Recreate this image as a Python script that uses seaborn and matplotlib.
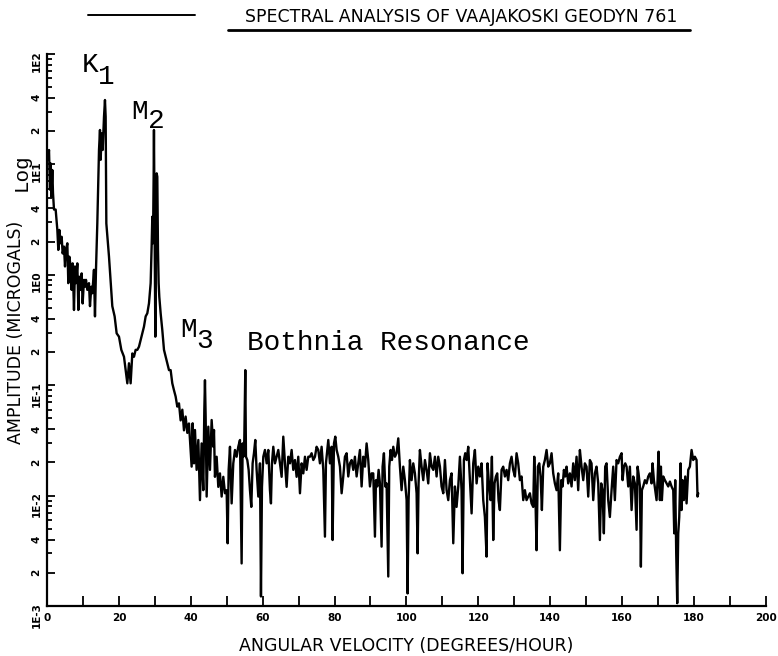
import matplotlib
matplotlib.use("Agg")
import matplotlib.pyplot as plt
import matplotlib.ticker as mticker
from matplotlib.lines import Line2D
import pandas as pd
import seaborn as sns

# ---------------------------------------------------------
# Spectrum values (deg/hour, microgals)
# ---------------------------------------------------------
# tidal band 0 - 40 deg/h (K1, M2)
freq_a = [0.28, 0.56, 0.84, 1.02, 1.21, 1.48, 1.67, 1.95, 2.41, 2.88,
          3.15, 3.43, 3.80, 4.08, 4.36, 4.73, 5.01, 5.29, 5.66, 5.93,
          6.21, 6.58, 6.86, 7.14, 7.51, 7.79, 8.07, 8.44, 8.72, 8.99,
          9.37, 9.64, 9.92, 10.29, 10.57, 10.85, 11.22, 11.68, 11.96, 12.33,
          12.61, 13.07, 13.35, 13.63, 14.00, 14.47, 14.74, 14.93, 15.21, 15.49,
          15.86, 16.13, 16.32, 16.51, 17.25, 18.17, 18.82, 19.38, 20.03, 20.68,
          21.42, 21.88, 22.35, 22.81, 23.27, 23.74, 24.20, 24.66, 25.13, 25.59,
          26.06, 26.52, 26.98, 27.45, 27.91, 28.37, 28.84, 29.11, 29.30, 29.49,
          29.67, 29.76, 29.95, 30.14, 30.32, 30.51, 30.69, 30.88, 31.06, 31.25,
          31.62, 32.08, 32.55, 33.01, 33.47, 33.94, 34.40, 34.86, 35.33, 35.79,
          36.25, 36.72, 37.18, 37.65, 38.11, 38.57, 39.04, 39.50]
amp_a = [11.0, 13.5, 5.9, 10.2, 5.1, 8.9, 5.5, 3.9, 3.9, 2.55,
         1.68, 2.55, 1.93, 2.21, 1.56, 1.80, 1.19, 1.68, 1.93, 0.84,
         1.46, 1.19, 0.73, 1.27, 0.48, 1.19, 0.84, 1.27, 0.48, 0.96,
         0.73, 1.03, 0.55, 0.90, 0.78, 0.90, 0.73, 0.84, 0.52, 0.78,
         0.68, 1.11, 0.42, 1.11, 2.92, 13.5, 20.5, 11.0, 19.1, 13.5,
         27.0, 38.3, 27.0, 2.92, 1.46, 0.52, 0.42, 0.295, 0.275, 0.209,
         0.181, 0.137, 0.104, 0.158, 0.104, 0.194, 0.181, 0.209, 0.209, 0.223,
         0.257, 0.295, 0.339, 0.42, 0.448, 0.55, 0.84, 1.80, 3.36, 1.93,
         7.74, 20.5, 2.55, 0.275, 2.55, 8.3, 7.74, 1.68, 0.84, 0.63,
         0.448, 0.316, 0.209, 0.181, 0.158, 0.137, 0.137, 0.104, 0.090, 0.079,
         0.064, 0.0685, 0.048, 0.060, 0.039, 0.052, 0.037, 0.045]

# 40 - 81 deg/h (M3, Bothnia resonance)
freq_b = [40.24, 40.52, 40.89, 41.17, 41.63, 42.10, 42.56, 43.02, 43.49, 43.77,
          43.95, 44.14, 44.42, 44.88, 45.34, 45.81, 46.27, 46.46, 46.73, 47.20,
          47.66, 48.12, 48.59, 49.05, 49.52, 49.98, 50.26, 50.54, 50.91, 51.37,
          51.83, 52.30, 52.76, 53.22, 53.69, 54.15, 54.43, 54.62, 54.89, 55.17,
          55.36, 55.73, 56.10, 56.47, 56.84, 57.21, 57.58, 57.95, 58.32, 58.79,
          59.25, 59.53, 59.81, 60.18, 60.64, 61.11, 61.57, 62.03, 62.31, 62.59,
          62.96, 63.42, 63.89, 64.35, 64.81, 65.28, 65.74, 66.21, 66.67, 67.13,
          67.60, 68.06, 68.52, 68.99, 69.45, 69.91, 70.38, 70.84, 71.31, 71.77,
          72.23, 72.70, 73.16, 73.62, 74.09, 74.55, 75.01, 75.48, 75.94, 76.40,
          76.87, 77.33, 77.61, 77.98, 78.26, 78.72, 79.19, 79.46, 79.84, 80.21,
          80.58, 81.04]
amp_b = [0.0183, 0.0452, 0.0196, 0.0393, 0.0171, 0.0319, 0.0091, 0.0297, 0.0112, 0.0596,
         0.111, 0.0519, 0.0098, 0.0421, 0.0171, 0.0484, 0.0277, 0.0393, 0.0148, 0.0225,
         0.0120, 0.0159, 0.0098, 0.0148, 0.0105, 0.0112, 0.0037, 0.0171, 0.0277, 0.0085,
         0.0196, 0.0259, 0.0225, 0.0277, 0.0319, 0.00243, 0.0297, 0.0225, 0.0319, 0.137,
         0.0225, 0.0210, 0.0171, 0.0112, 0.0079, 0.0196, 0.0242, 0.0319, 0.0171, 0.0098,
         0.0196, 0.00122, 0.0120, 0.0225, 0.0259, 0.0196, 0.0259, 0.0112, 0.0085, 0.0196,
         0.0277, 0.0196, 0.0225, 0.0259, 0.0196, 0.0148, 0.0342, 0.0196, 0.0120, 0.0225,
         0.0196, 0.0259, 0.0171, 0.0210, 0.0148, 0.0225, 0.0105, 0.0196, 0.0159, 0.0225,
         0.0171, 0.0225, 0.0225, 0.0242, 0.0210, 0.0225, 0.0277, 0.0259, 0.0196, 0.0277,
         0.0171, 0.00425, 0.0196, 0.0259, 0.0319, 0.0196, 0.0277, 0.00396, 0.0297, 0.0342,
         0.0259, 0.0225]

# 81 - 120 deg/h
freq_c = [81.50, 81.97, 82.43, 82.89, 83.36, 83.82, 84.28, 84.75, 85.21, 85.67,
          86.14, 86.60, 87.06, 87.53, 87.99, 88.46, 88.92, 89.38, 89.85, 90.31,
          90.77, 91.24, 91.52, 91.89, 92.26, 92.63, 93.09, 93.37, 93.74, 94.11,
          94.48, 94.95, 95.22, 95.60, 95.97, 96.34, 96.80, 97.26, 97.73, 98.19,
          98.65, 99.12, 99.58, 100.05, 100.32, 100.60, 100.97, 101.44, 101.90, 102.36,
          102.83, 103.11, 103.38, 103.75, 104.22, 104.68, 105.15, 105.61, 106.07, 106.54,
          107.00, 107.46, 107.93, 108.39, 108.85, 109.32, 109.78, 110.25, 110.71, 111.17,
          111.64, 112.10, 112.56, 113.03, 113.49, 113.95, 114.42, 114.88, 115.34, 115.62,
          115.99, 116.36, 116.74, 117.20, 117.66, 118.13, 118.59, 119.05, 119.52, 119.98]
amp_c = [0.0183, 0.0105, 0.0149, 0.0225, 0.0242, 0.0149, 0.0196, 0.0210, 0.0171, 0.0225,
         0.0149, 0.0196, 0.0259, 0.0121, 0.0225, 0.0183, 0.0297, 0.0210, 0.0121, 0.0159,
         0.0159, 0.00425, 0.0138, 0.0121, 0.0171, 0.0129, 0.00345, 0.0183, 0.0242, 0.0121,
         0.0129, 0.00185, 0.0183, 0.0259, 0.0210, 0.0277, 0.0225, 0.0242, 0.0330, 0.0183,
         0.0112, 0.0183, 0.0138, 0.0091, 0.0013, 0.0091, 0.0210, 0.0138, 0.0196, 0.0159,
         0.0105, 0.0030, 0.0129, 0.0259, 0.0183, 0.0138, 0.0210, 0.0171, 0.0129, 0.0242,
         0.0183, 0.0171, 0.0225, 0.0149, 0.0225, 0.0183, 0.0121, 0.0105, 0.0210, 0.0112,
         0.0091, 0.0138, 0.0159, 0.0037, 0.0121, 0.0079, 0.0121, 0.0225, 0.0112, 0.00198,
         0.0210, 0.0242, 0.0210, 0.0277, 0.0138, 0.0069, 0.0196, 0.0259, 0.0129, 0.0183]

# 120 - 159 deg/h
freq_d = [120.44, 120.91, 121.37, 121.83, 122.30, 122.57, 122.95, 123.41, 123.78, 124.15,
          124.52, 124.89, 125.26, 125.63, 126.00, 126.47, 126.93, 127.40, 127.86, 128.32,
          128.79, 129.25, 129.71, 130.18, 130.64, 131.10, 131.57, 132.03, 132.50, 132.96,
          133.42, 133.89, 134.35, 134.81, 135.28, 135.56, 135.83, 136.20, 136.57, 136.95,
          137.32, 137.69, 138.06, 138.52, 138.99, 139.45, 139.91, 140.38, 140.84, 141.30,
          141.77, 142.23, 142.69, 143.07, 143.44, 143.81, 144.18, 144.55, 145.01, 145.48,
          145.94, 146.40, 146.87, 147.33, 147.79, 148.26, 148.72, 149.19, 149.65, 150.11,
          150.58, 151.04, 151.50, 151.97, 152.43, 152.89, 153.36, 153.82, 154.19, 154.56,
          154.93, 155.30, 155.68, 156.14, 156.60, 157.07, 157.53, 157.99, 158.46, 158.92]
amp_d = [0.0149, 0.0196, 0.0091, 0.0064, 0.0028, 0.0196, 0.0129, 0.0091, 0.0225, 0.00396,
         0.0129, 0.0149, 0.0159, 0.0091, 0.0074, 0.0171, 0.0183, 0.0149, 0.0171, 0.0138,
         0.0196, 0.0225, 0.0171, 0.0149, 0.0242, 0.0196, 0.0138, 0.0149, 0.0091, 0.0112,
         0.0091, 0.0098, 0.0105, 0.0085, 0.0079, 0.0225, 0.0121, 0.0032, 0.0183, 0.0196,
         0.0149, 0.0074, 0.0183, 0.0210, 0.0259, 0.0183, 0.0196, 0.0242, 0.0159, 0.0129,
         0.0112, 0.0159, 0.0032, 0.0138, 0.0121, 0.0171, 0.0149, 0.0183, 0.0129, 0.0159,
         0.0121, 0.0196, 0.0138, 0.0225, 0.0112, 0.0259, 0.0183, 0.0138, 0.0196, 0.0183,
         0.0098, 0.0210, 0.0196, 0.0091, 0.0159, 0.0183, 0.0129, 0.00396, 0.0129, 0.0112,
         0.00455, 0.0183, 0.0196, 0.0091, 0.0064, 0.0112, 0.0183, 0.0091, 0.0210, 0.0196]

# 159 - 181 deg/h
freq_e = [159.39, 159.86, 160.13, 160.50, 160.88, 161.25, 161.71, 162.17, 162.64, 163.10,
          163.56, 164.03, 164.31, 164.58, 164.96, 165.23, 165.51, 165.88, 166.35, 166.81,
          167.27, 167.74, 168.20, 168.48, 168.85, 169.22, 169.59, 169.87, 170.15, 170.52,
          170.80, 171.07, 171.45, 171.91, 172.37, 172.84, 173.30, 173.76, 174.23, 174.51,
          174.78, 175.06, 175.34, 175.62, 175.90, 176.27, 176.55, 176.82, 177.19, 177.57,
          177.94, 178.40, 178.86, 179.33, 179.79, 180.25, 180.72, 180.99, 181.18]
amp_e = [0.0225, 0.0242, 0.0138, 0.0183, 0.0196, 0.0183, 0.0121, 0.0183, 0.0074, 0.0149,
         0.0129, 0.0049, 0.0183, 0.0159, 0.0121, 0.00227, 0.0112, 0.0121, 0.0138, 0.0129,
         0.0149, 0.0159, 0.0129, 0.0196, 0.0138, 0.0112, 0.0091, 0.0138, 0.0250, 0.0091,
         0.0183, 0.0091, 0.0149, 0.0138, 0.0129, 0.0121, 0.0134, 0.0121, 0.0112, 0.00455,
         0.0138, 0.0030, 0.00106, 0.00455, 0.0064, 0.0196, 0.0074, 0.0138, 0.0091, 0.0149,
         0.0085, 0.0171, 0.0183, 0.0259, 0.0210, 0.0225, 0.0210, 0.0098, 0.0105]

# axis ticks
xticks = [0, 20, 40, 60, 80, 100, 120, 140, 160, 180, 200]
yticks = [1e-3, 2e-3, 4e-3, 1e-2, 2e-2, 4e-2, 1e-1, 2e-1, 4e-1,
          1, 2, 4, 10, 20, 40, 100]
ytick_labels = ["1E-3", "2", "4", "1E-2", "2", "4", "1E-1", "2", "4",
                "1E0", "2", "4", "1E1", "2", "4", "1E2"]

# peak labels: (main letter, subscript, x, y, sub x, sub y)
peak_labels = [("K", "1", 11.96, 78.7, 16.41, 62.5),
               ("M", "2", 25.87, 30.1, 30.32, 24.7),
               ("M", "3", 39.36, 0.319, 43.95, 0.251)]


def build_frame():
    freq = freq_a + freq_b + freq_c + freq_d + freq_e
    amp = amp_a + amp_b + amp_c + amp_d + amp_e
    assert len(freq) == len(amp), "freq / amp length mismatch"
    return pd.DataFrame({"freq": freq, "amp": amp})


def main():
    df = build_frame()

    sns.set_style("ticks")
    plt.rcParams["font.family"] = ["DejaVu Sans"]
    plt.rcParams["text.color"] = "black"
    plt.rcParams["axes.labelcolor"] = "black"
    plt.rcParams["xtick.color"] = "black"
    plt.rcParams["ytick.color"] = "black"

    fig = plt.figure(figsize=(7.78, 6.56), dpi=100)
    ax = fig.add_axes([0.0604, 0.0762, 0.924, 0.8415])

    sns.lineplot(data=df, x="freq", y="amp", color="black", linewidth=1.7,
                 estimator=None, ax=ax)

    ax.set_yscale("log")
    ax.set_xlim(0, 200)
    ax.set_ylim(1e-3, 1e2)

    # x ticks
    ax.set_xticks(xticks)
    ax.set_xticklabels([str(t) for t in xticks])
    ax.xaxis.set_minor_locator(mticker.MultipleLocator(10))

    # y ticks: decades plus 2 and 4 labelled, rest unlabelled
    ax.yaxis.set_major_locator(mticker.FixedLocator(yticks))
    ax.yaxis.set_major_formatter(mticker.FixedFormatter(ytick_labels))
    ax.yaxis.set_minor_locator(mticker.LogLocator(base=10, subs=(3, 5, 6, 7, 8, 9), numticks=20))
    ax.yaxis.set_minor_formatter(mticker.NullFormatter())

    ax.tick_params(axis="both", which="both", direction="in", color="black",
                   labelcolor="black", width=1.3)
    ax.tick_params(axis="x", which="both", length=7, labelsize=7.5, pad=5)
    ax.tick_params(axis="y", which="major", length=6, labelsize=7.5, pad=4, labelrotation=90)
    ax.tick_params(axis="y", which="minor", length=3.5)
    for lab in ax.get_xticklabels() + ax.get_yticklabels():
        lab.set_fontweight("bold")

    sns.despine(ax=ax)
    for side in ["left", "bottom"]:
        ax.spines[side].set_linewidth(1.6)
        ax.spines[side].set_color("black")

    ax.set_xlabel("ANGULAR VELOCITY (DEGREES/HOUR)", fontsize=12.5, color="black")
    ax.xaxis.set_label_coords(0.5, -0.056)
    ax.set_ylabel("AMPLITUDE (MICROGALS)", fontsize=12.5, color="black")
    ax.yaxis.set_label_coords(-0.031, 0.495)

    fig.text(0.027, 0.738, "Log", rotation=90, ha="center", va="center",
             fontsize=15, family=["Liberation Mono", "DejaVu Sans Mono"])

    # peak annotations
    mono = ["Liberation Mono", "DejaVu Sans Mono"]
    for main_txt, sub_txt, x0, y0, x1, y1 in peak_labels:
        ax.text(x0, y0, main_txt, ha="center", va="center", fontsize=20, family=mono)
        ax.text(x1, y1, sub_txt, ha="center", va="center", fontsize=20, family=mono)
    ax.text(55.6, 0.241, "Bothnia Resonance", ha="left", va="center",
            fontsize=20, family=mono)

    # title block: legend stroke, caption and underline
    fig.add_artist(Line2D([88 / 778, 195 / 778], [1 - 15 / 656, 1 - 15 / 656],
                          color="black", linewidth=1.4))
    fig.text(461 / 778, 1 - 17 / 656, "SPECTRAL ANALYSIS OF VAAJAKOSKI GEODYN 761",
             ha="center", va="center", fontsize=12.5)
    fig.add_artist(Line2D([228 / 778, 690 / 778], [1 - 30 / 656, 1 - 30 / 656],
                          color="black", linewidth=2.0))

    fig.savefig("out.png", dpi=100)


if __name__ == "__main__":
    main()
